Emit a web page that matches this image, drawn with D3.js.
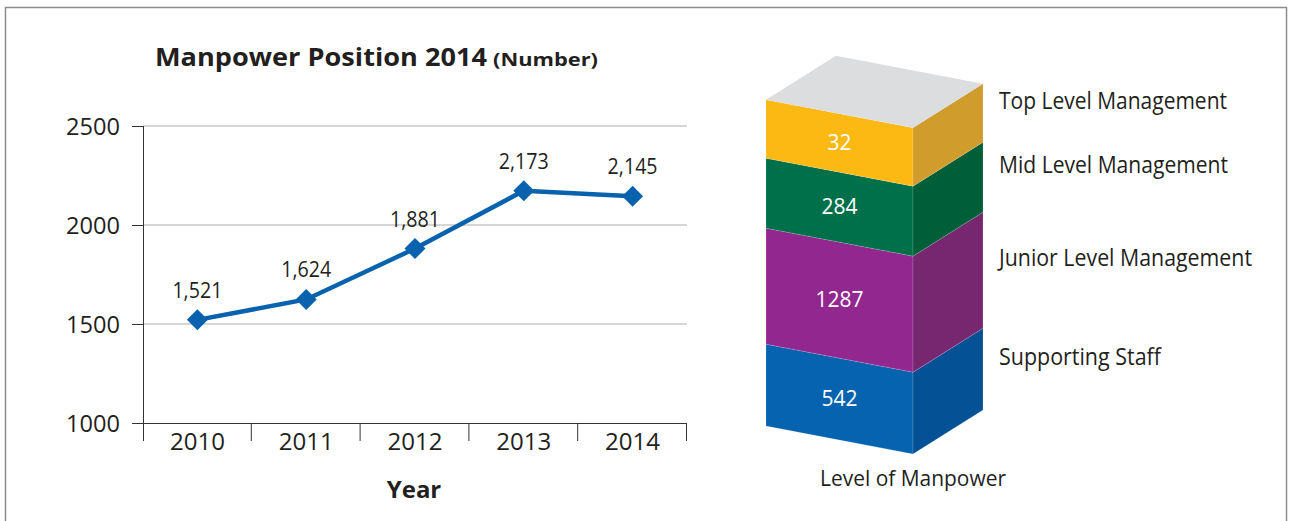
<!DOCTYPE html>
<html>
<head>
<meta charset="utf-8">
<script src="https://d3js.org/d3.v7.min.js"></script>
<style>
  body { margin: 0; background: #fff; }
  text { font-family: "Open Sans", "Noto Sans", sans-serif; fill: #231f20; }
</style>
</head>
<body>
<script>

// line chart data
var years = ["2010", "2011", "2012", "2013", "2014"];
var staffTotal = [1521, 1624, 1881, 2173, 2145];
var yTicks = [1000, 1500, 2000, 2500];

// block data, bottom to top
var levels = ["Supporting Staff", "Junior Level Management", "Mid Level Management", "Top Level Management"];
var levelCounts = [542, 1287, 284, 32];

// colours for the block faces (front / side)
var frontColors = ["#0563af", "#92278f", "#00704a", "#fdb913"];
var sideColors = ["#045295", "#772670", "#005e39", "#d09c2c"];
var legendWidths = [162, 253, 229, 228];

var width = 1289,
    height = 521;

var svg = d3.select("body").append("svg")
    .attr("width", width)
    .attr("height", height);

// outer frame
svg.append("rect")
    .attr("x", 5.5)
    .attr("y", 7.5)
    .attr("width", 1281)
    .attr("height", 540)
    .attr("fill", "none")
    .attr("stroke", "#8c8c8c")
    .attr("stroke-width", 1.5);

////////////////////////////////////////////////////////////////
// line chart

var x = d3.scaleBand().domain(years).range([143, 687]);
var y = d3.scaleLinear().domain([1000, 2500]).range([423, 126]);
var half = x.bandwidth() / 2;

// gridlines
svg.append("g")
  .selectAll("line")
  .data(yTicks.slice(1))
  .join("line")
    .attr("x1", 143)
    .attr("x2", 687)
    .attr("y1", function(d) { return y(d); })
    .attr("y2", function(d) { return y(d); })
    .attr("stroke", "#c8c8c8")
    .attr("stroke-width", 1.5);

// y axis
var yAxis = d3.axisLeft(y)
    .tickValues(yTicks)
    .tickSize(11)
    .tickFormat(d3.format("d"));

var gy = svg.append("g")
    .attr("transform", "translate(143,0)")
    .attr("color", "#333")
    .call(yAxis);
gy.select(".domain").remove();
gy.selectAll("text")
    .attr("x", -23)
    .attr("dy", "0.36em")
    .attr("font-size", "24px")
    .attr("textLength", 54)
    .attr("lengthAdjust", "spacingAndGlyphs");

svg.append("line")
    .attr("x1", 143.5).attr("x2", 143.5)
    .attr("y1", y(2500)).attr("y2", 441)
    .attr("stroke", "#333");

// x axis
var xAxis = d3.axisBottom(x).tickSize(0);
var gx = svg.append("g")
    .attr("transform", "translate(0," + y(1000) + ")")
    .attr("color", "#333")
    .call(xAxis);
gx.select(".domain").remove();
gx.selectAll("text")
    .attr("y", 27)
    .attr("dy", null)
    .attr("font-size", "24.5px")
    .attr("textLength", 55)
    .attr("lengthAdjust", "spacingAndGlyphs");

svg.append("line")
    .attr("x1", 143).attr("x2", 687)
    .attr("y1", y(1000) + 0.5).attr("y2", y(1000) + 0.5)
    .attr("stroke", "#333");

// tick marks between the years
var edges = years.map(function(d) { return x(d); }).concat([x.range()[1]]);
svg.append("g")
  .selectAll("line")
  .data(edges.slice(1))
  .join("line")
    .attr("x1", function(d) { return d - 0.5; })
    .attr("x2", function(d) { return d - 0.5; })
    .attr("y1", y(1000))
    .attr("y2", 441)
    .attr("stroke", "#333");

// the line
var line = d3.line()
    .x(function(d, i) { return x(years[i]) + half; })
    .y(function(d) { return y(d); });

svg.append("path")
    .datum(staffTotal)
    .attr("d", line)
    .attr("fill", "none")
    .attr("stroke", "#0862ad")
    .attr("stroke-width", 4.5);

// diamonds
svg.append("g")
  .selectAll("path")
  .data(staffTotal)
  .join("path")
    .attr("d", d3.symbol(d3.symbolSquare, 220))
    .attr("transform", function(d, i) {
      return "translate(" + (x(years[i]) + half) + "," + y(d) + ") rotate(45)";
    })
    .attr("fill", "#0862ad");

// value labels
svg.append("g")
  .selectAll("text")
  .data(staffTotal)
  .join("text")
    .attr("x", function(d, i) { return x(years[i]) + half; })
    .attr("y", function(d) { return y(d) - 22; })
    .attr("text-anchor", "middle")
    .attr("font-size", "21.5px")
    .attr("textLength", 50)
    .attr("lengthAdjust", "spacingAndGlyphs")
    .text(d3.format(","));

// title
svg.append("text")
    .attr("x", 155)
    .attr("y", 66)
    .attr("font-size", "25.5px")
    .attr("font-weight", "bold")
    .attr("textLength", 332)
    .attr("lengthAdjust", "spacingAndGlyphs")
    .text("Manpower Position 2014");

svg.append("text")
    .attr("x", 493)
    .attr("y", 66)
    .attr("font-size", "18px")
    .attr("font-weight", "bold")
    .attr("textLength", 105)
    .attr("lengthAdjust", "spacingAndGlyphs")
    .text("(Number)");

svg.append("text")
    .attr("x", 414)
    .attr("y", 498)
    .attr("text-anchor", "middle")
    .attr("font-size", "24px")
    .attr("font-weight", "bold")
    .text("Year");

////////////////////////////////////////////////////////////////
// 3d block

var hScale = d3.scaleLinear().domain([0, 1287]).range([57, 116]);
var fx0 = 766, fx1 = 913, base = 426;
var slant = 28, dx = 70, dy = -44;

var heights = levelCounts.map(function(d) { return hScale(d); });
var cum = Array.from(d3.cumsum(heights));
var segs = levelCounts.map(function(d, i) {
  return { value: d, name: levels[i], i: i, b: base - (cum[i] - heights[i]), t: base - cum[i] };
});

var pts = function(a) { return a.map(function(p) { return p.join(","); }).join(" "); };

var block = svg.append("g");

block.selectAll(".front")
  .data(segs)
  .join("polygon")
    .attr("class", "front")
    .attr("points", function(d) {
      return pts([[fx0, d.t], [fx1, d.t + slant], [fx1, d.b + slant], [fx0, d.b]]);
    })
    .attr("fill", function(d) { return frontColors[d.i]; })
    .attr("stroke", "rgba(255,255,255,0.25)")
    .attr("stroke-width", 0.6);

block.selectAll(".side")
  .data(segs)
  .join("polygon")
    .attr("class", "side")
    .attr("points", function(d) {
      return pts([[fx1, d.t + slant], [fx1 + dx, d.t + slant + dy], [fx1 + dx, d.b + slant + dy], [fx1, d.b + slant]]);
    })
    .attr("fill", function(d) { return sideColors[d.i]; })
    .attr("stroke", "rgba(255,255,255,0.25)")
    .attr("stroke-width", 0.6);

var topY = segs[segs.length - 1].t;
block.append("polygon")
    .attr("points", pts([[fx0, topY], [fx1, topY + slant], [fx1 + dx, topY + slant + dy], [fx0 + dx, topY + dy]]))
    .attr("fill", "#dcddde");

// numbers on the front
block.selectAll(".num")
  .data(segs)
  .join("text")
    .attr("class", "num")
    .attr("x", (fx0 + fx1) / 2)
    .attr("y", function(d) { return (d.t + d.b) / 2 + slant / 2 + 7; })
    .attr("text-anchor", "middle")
    .attr("font-size", "21px")
    .style("fill", "#fff")
    .text(function(d) { return d.value; });

// labels on the right
block.selectAll(".lab")
  .data(segs)
  .join("text")
    .attr("class", "lab")
    .attr("x", 999)
    .attr("y", function(d) { return (d.t + d.b) / 2 + slant + dy - 4; })
    .attr("font-size", "24.5px")
    .attr("textLength", function(d) { return legendWidths[d.i]; })
    .attr("lengthAdjust", "spacingAndGlyphs")
    .text(function(d) { return d.name; });

svg.append("text")
    .attr("x", 913)
    .attr("y", 486)
    .attr("text-anchor", "middle")
    .attr("font-size", "22px")
    .attr("textLength", 186)
    .attr("lengthAdjust", "spacingAndGlyphs")
    .text("Level of Manpower");

</script>
</body>
</html>
